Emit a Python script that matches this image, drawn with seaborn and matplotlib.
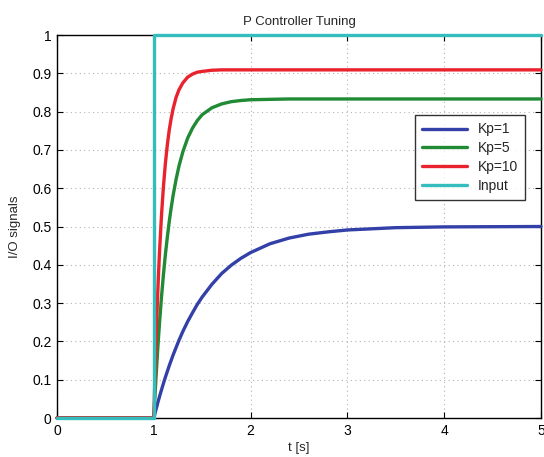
import numpy as np
import pandas as pd
import matplotlib
matplotlib.use("Agg")
import matplotlib.pyplot as plt
import seaborn as sns

# Step responses of a first-order plant under proportional control
t_resp = [0.0, 1.0, 1.01, 1.02, 1.03, 1.04, 1.05, 1.06, 1.08, 1.10, 1.12, 1.14, 1.16,
          1.18, 1.20, 1.23, 1.26, 1.30, 1.35, 1.40, 1.45, 1.50, 1.60, 1.70, 1.80, 1.90,
          2.00, 2.20, 2.40, 2.60, 2.80, 3.00, 3.25, 3.50, 3.75, 4.00, 4.50, 5.00]
kp1 = [0.0, 0.0, 0.010, 0.020, 0.029, 0.039, 0.048, 0.057, 0.074, 0.091, 0.107, 0.122,
       0.137, 0.151, 0.165, 0.184, 0.203, 0.226, 0.252, 0.275, 0.297, 0.316, 0.349,
       0.377, 0.399, 0.417, 0.432, 0.455, 0.470, 0.480, 0.486, 0.491, 0.494, 0.497,
       0.498, 0.499, 0.4995, 0.500]
kp5 = [0.0, 0.0, 0.049, 0.094, 0.137, 0.178, 0.216, 0.252, 0.318, 0.376, 0.428, 0.473,
       0.514, 0.550, 0.582, 0.623, 0.658, 0.695, 0.731, 0.757, 0.777, 0.792, 0.810,
       0.820, 0.826, 0.829, 0.831, 0.832, 0.833, 0.833, 0.833, 0.833, 0.833, 0.833,
       0.833, 0.833, 0.833, 0.833]
kp10 = [0.0, 0.0, 0.095, 0.180, 0.256, 0.324, 0.385, 0.439, 0.532, 0.606, 0.666, 0.714,
        0.753, 0.783, 0.808, 0.837, 0.857, 0.875, 0.890, 0.898, 0.903, 0.905, 0.908,
        0.909, 0.909, 0.909, 0.909, 0.909, 0.909, 0.909, 0.909, 0.909, 0.909, 0.909,
        0.909, 0.909, 0.909, 0.909]

# Reference step input applied at t = 1 s
t_input = [0.0, 1.0, 1.0, 5.0]
u_input = [0.0, 0.0, 1.0, 1.0]

series_names = ["Kp=1", "Kp=5", "Kp=10", "Input"]
series_colors = ["#3340a8", "#208a35", "#e8232e", "#35bcbc"]

frames = []
for name, ys in zip(series_names[:3], [kp1, kp5, kp10]):
    frames.append(pd.DataFrame({"t": t_resp, "y": ys, "series": name}))
frames.append(pd.DataFrame({"t": t_input, "y": u_input, "series": "Input"}))
df = pd.concat(frames, ignore_index=True)

sns.set_theme(style="white")
plt.rcParams["font.family"] = ["Liberation Sans", "DejaVu Sans"]

fig = plt.figure(figsize=(5.44, 4.57), dpi=100)
ax = fig.add_axes([0.1048, 0.0853, 0.8897, 0.8381])

sns.lineplot(data=df, x="t", y="y", hue="series", hue_order=series_names,
             palette=series_colors, estimator=None, sort=False, units="series",
             linewidth=2.4, ax=ax, legend=False)
for line in ax.get_lines():
    line.set_clip_on(False)
    line.set_solid_joinstyle("round")

ax.set_xlim(0, 5)
ax.set_ylim(0, 1)
ax.set_xticks(np.arange(0, 6, 1))
ax.set_yticks(np.round(np.arange(0, 1.01, 0.1), 1))
ax.set_xticklabels([str(v) for v in range(6)])
ax.set_yticklabels(["0"] + [f"{v:.1f}" for v in np.arange(0.1, 1.0, 0.1)] + ["1"])
ax.tick_params(direction="in", length=4, width=0.8, colors="black", labelsize=10,
               top=True, right=True, bottom=True, left=True, pad=4)
ax.grid(True, linestyle=(0, (1, 3)), color="#b4b4b4", linewidth=0.8)
for s in ax.spines.values():
    s.set_visible(True)
    s.set_color("black")
    s.set_linewidth(1.0)
    s.set_zorder(1)

ax.set_title("P Controller Tuning", fontsize=9.5, pad=7)
ax.set_xlabel("t [s]", fontsize=9.5, labelpad=3)
ax.set_ylabel("I/O signals", fontsize=9.5, labelpad=8)

handles = [plt.Line2D([], [], color=c, linewidth=2.4) for c in series_colors]
leg = ax.legend(handles, series_names, loc="upper left", bbox_to_anchor=(0.74, 0.79),
                frameon=True, fancybox=False, edgecolor="black", fontsize=10,
                handlelength=3.2, borderpad=0.5, labelspacing=0.35, borderaxespad=0)
leg.get_frame().set_linewidth(1.0)
leg.set_zorder(5)

fig.savefig("out.png", dpi=100)
